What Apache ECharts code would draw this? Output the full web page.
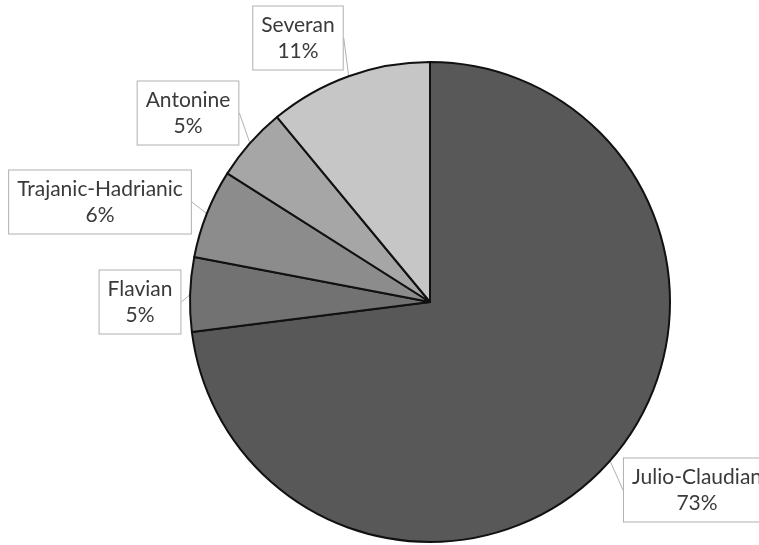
<!DOCTYPE html>
<html>
<head>
<meta charset="utf-8">
<script src="https://cdn.jsdelivr.net/npm/echarts@6/dist/echarts.min.js"></script>
<style>html,body{margin:0;padding:0;background:#fff;}#c{width:759px;height:545px;}</style>
</head>
<body>
<div id="c"></div>
<script>
var categories = ['Julio-Claudian', 'Flavian', 'Trajanic-Hadrianic', 'Antonine', 'Severan'];
var values = [73, 5, 6, 5, 11];
var colors = ['#585858', '#727272', '#8c8c8c', '#a6a6a6', '#c6c6c6'];
var labelPos = [[697, 490], [140, 302], [100, 202], [188, 113], [298, 38]];

var chart = echarts.init(document.getElementById('c'));
chart.setOption({
  animation: false,
  series: [{
    type: 'pie',
    center: [430, 302],
    radius: [0, 240],
    startAngle: 90,
    clockwise: true,
    percentPrecision: 0,
    avoidLabelOverlap: false,
    data: categories.map(function (c, i) {
      return { name: c, value: values[i], itemStyle: { color: colors[i] } };
    }),
    itemStyle: { borderColor: '#111', borderWidth: 2 },
    label: {
      show: true,
      position: 'outside',
      formatter: '{b}\n{d}%',
      fontFamily: 'Lato',
      fontSize: 21,
      lineHeight: 26,
      color: '#3a3a3a',
      align: 'center',
      overflow: 'none',
      backgroundColor: '#fff',
      borderColor: '#b0b0b0',
      borderWidth: 1,
      padding: [6, 8, 5, 8]
    },
    labelLine: { show: true, length: 6, length2: 0, lineStyle: { color: '#b0b0b0', width: 1 } },
    labelLayout: function (p) {
      var pos = labelPos[p.dataIndex];
      return { x: pos[0], y: pos[1], align: 'center', verticalAlign: 'middle' };
    },
    emphasis: { disabled: true }
  }]
});
</script>
</body>
</html>
